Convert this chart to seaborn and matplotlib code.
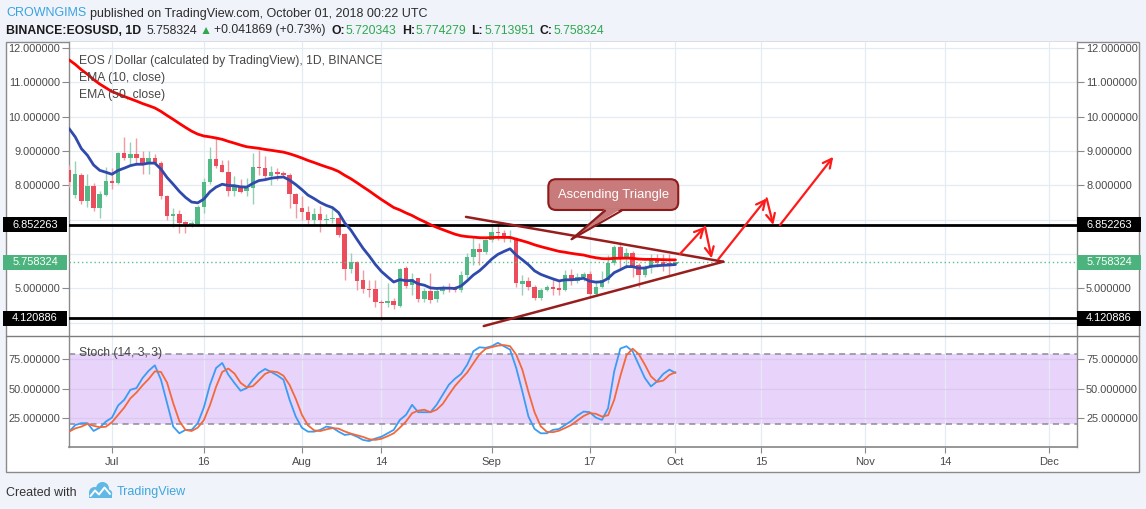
import numpy as np
import pandas as pd
import matplotlib
matplotlib.use("Agg")
import matplotlib.pyplot as plt
import matplotlib.transforms as mtransforms
from matplotlib.patches import Rectangle, Polygon, Circle
from matplotlib.lines import Line2D
import seaborn as sns

# ------------------------------------------------------------------ data
START = "2018-06-24"
opens = [8.45, 7.72, 8.30, 7.54, 7.98, 7.35, 7.72, 8.13, 8.08, 8.93,
         8.80, 8.90, 8.80, 8.61, 8.80, 8.66, 7.69, 7.10, 7.16, 6.92,
         6.87, 6.88, 7.38, 8.09, 8.77, 8.59, 8.40, 7.84, 7.96, 7.83,
         7.91, 8.54, 8.51, 8.28, 8.40, 8.35, 8.30, 7.74, 7.33, 7.21,
         6.99, 7.17, 6.99, 7.03, 7.06, 6.57, 5.56, 5.76, 5.23, 4.98,
         4.98, 4.60, 4.56, 4.63, 4.49, 5.58, 5.10, 5.29, 4.68, 4.92,
         4.68, 4.92, 5.05, 5.01, 4.96, 5.39, 5.90, 6.14, 6.07, 6.41,
         6.65, 6.62, 6.43, 6.46, 5.13, 5.22, 5.05, 4.71, 4.95, 5.03,
         5.00, 4.95, 5.39, 5.22, 5.34, 5.42, 4.83, 5.05, 5.24, 5.73,
         6.19, 5.92, 6.04, 5.68, 5.39, 5.61, 5.85, 5.78, 5.75, 5.720343]
highs = [8.59, 8.71, 8.35, 8.32, 8.07, 7.82, 8.54, 8.50, 8.96, 9.42,
         9.27, 9.37, 9.00, 9.00, 8.90, 8.70, 7.72, 7.33, 7.28, 6.95,
         6.95, 7.44, 8.22, 9.13, 9.37, 8.74, 8.73, 8.27, 8.17, 8.20,
         8.93, 9.03, 8.86, 8.55, 8.50, 8.42, 8.35, 7.77, 7.70, 7.41,
         7.35, 7.41, 7.16, 7.33, 7.10, 6.60, 6.02, 5.80, 5.53, 5.24,
         5.24, 4.65, 5.15, 4.72, 5.60, 5.65, 5.44, 5.30, 5.00, 5.44,
         4.98, 5.10, 5.14, 5.08, 5.50, 6.02, 6.50, 6.33, 6.45, 6.89,
         6.84, 6.70, 6.70, 6.50, 5.39, 5.32, 5.10, 5.00, 5.10, 5.30,
         5.20, 5.54, 5.56, 5.45, 5.48, 5.50, 5.20, 5.50, 5.97, 6.26,
         6.36, 6.16, 6.08, 5.73, 5.68, 6.00, 6.00, 6.00, 6.00, 5.774279]
lows = [7.95, 7.64, 7.45, 7.38, 7.25, 7.06, 7.70, 7.88, 8.05, 8.74,
        8.57, 8.60, 8.33, 8.32, 8.60, 7.60, 6.98, 6.80, 6.60, 6.60,
        6.80, 6.84, 7.18, 8.05, 8.50, 8.38, 7.70, 7.69, 7.77, 7.70,
        7.45, 8.30, 8.20, 8.00, 8.15, 8.24, 7.35, 7.04, 7.00, 6.88,
        6.84, 6.65, 6.85, 6.90, 6.50, 5.24, 5.44, 4.95, 4.85, 4.76,
        4.45, 4.08, 4.46, 4.41, 4.45, 5.00, 4.80, 4.61, 4.61, 4.56,
        4.61, 4.83, 4.90, 4.89, 4.89, 5.29, 5.68, 5.68, 6.00, 6.36,
        6.40, 6.36, 6.36, 5.05, 4.80, 4.96, 4.67, 4.65, 4.92, 4.80,
        4.80, 4.91, 5.10, 5.15, 5.20, 4.74, 4.79, 5.00, 5.14, 5.68,
        5.58, 5.58, 5.34, 5.05, 5.34, 5.44, 5.63, 5.49, 5.39, 5.713951]
closes = [8.09, 8.32, 7.54, 7.98, 7.33, 7.74, 8.13, 8.06, 8.93, 8.80,
          8.90, 8.80, 8.61, 8.80, 8.64, 7.69, 7.12, 7.15, 6.89, 6.87,
          6.90, 7.38, 8.09, 8.77, 8.57, 8.40, 7.83, 7.96, 7.81, 7.91,
          8.54, 8.51, 8.28, 8.40, 8.33, 8.30, 7.74, 7.45, 7.21, 6.99,
          7.16, 6.99, 7.03, 7.06, 6.55, 5.56, 5.76, 5.21, 4.98, 4.94,
          4.59, 4.56, 4.63, 4.51, 5.56, 5.08, 5.26, 4.68, 4.92, 4.66,
          4.92, 5.05, 5.00, 4.96, 5.39, 5.90, 6.14, 6.07, 6.41, 6.65,
          6.60, 6.46, 6.50, 5.14, 5.22, 5.03, 4.71, 4.95, 5.03, 4.99,
          4.95, 5.39, 5.25, 5.34, 5.42, 4.83, 5.05, 5.24, 5.73, 6.21,
          5.92, 6.04, 5.63, 5.39, 5.61, 5.85, 5.75, 5.72, 5.716455, 5.758324]
stoch_k = [13.4, 19.0, 20.6, 20.6, 14.0, 16.8, 22.0, 25.4, 35.7, 40.6,
           49.1, 50.6, 59.2, 65.4, 70.0, 57.7, 37.7, 17.7, 12.0, 14.9,
           14.9, 20.6, 34.0, 53.4, 67.7, 72.0, 62.0, 54.9, 48.3, 50.6,
           57.7, 63.5, 66.9, 64.3, 61.4, 57.7, 40.6, 26.3, 16.8, 13.4,
           13.4, 14.9, 17.7, 16.8, 13.4, 10.6, 11.3, 9.1, 6.3, 5.4,
           7.5, 9.1, 12.0, 14.9, 23.4, 27.7, 36.3, 30.0, 30.0, 30.0,
           36.3, 44.9, 53.4, 58.6, 62.6, 70.6, 82.0, 85.4, 84.9, 86.3,
           89.2, 86.3, 83.4, 67.7, 47.7, 26.3, 15.7, 12.0, 12.0, 14.9,
           15.7, 19.1, 22.6, 27.1, 30.5, 30.0, 25.4, 23.4, 33.4, 64.8,
           84.3, 86.3, 82.0, 70.6, 59.2, 52.0, 56.3, 62.6, 66.3, 63.5]

ema10_seed = 10.00
ema50_seed = 11.80
resistance = 6.852263
support = 4.120886

price_ticks = [5, 8, 9, 10, 11, 12]
price_grid = [4, 5, 6, 7, 8, 9, 10, 11, 12]
stoch_ticks = [25, 50, 75]
date_ticks = ["2018-07-01", "2018-07-16", "2018-08-01", "2018-08-14", "2018-09-01",
              "2018-09-17", "2018-10-01", "2018-10-15", "2018-11-01", "2018-11-14",
              "2018-12-01"]
date_labels = ["Jul", "16", "Aug", "14", "Sep", "17", "Oct", "15", "Nov", "14", "Dec"]

# chart drawings (x = days since START, y = price)
tri_upper = [(64.8, 7.08), (106.8, 5.775)]
tri_lower = [(67.7, 3.90), (106.8, 5.775)]
arrow_segments = [((99.74, 6.00), (103.82, 6.795)),
                  ((103.82, 6.795), (104.91, 5.874)),
                  ((105.99, 5.845), (113.89, 7.62)),
                  ((113.89, 7.62), (114.97, 6.844)),
                  ((116.07, 6.844), (124.77, 8.83))]
callout_text = "Ascending Triangle"
callout_center = (88.85, 7.73)
callout_pointer = [(87.5, 7.26), (90.2, 7.26), (82.05, 6.43)]

# ------------------------------------------------------------------ frame
sns.set_theme(style="white")
plt.rcParams['font.family'] = ['Liberation Sans', 'DejaVu Sans']

W, H = 1146, 509
fig = plt.figure(figsize=(W / 100, H / 100), dpi=100, facecolor="#f0f3fa")
PIX = mtransforms.IdentityTransform()


def fx(p):
    return p / W


def fy(p):
    return 1 - p / H


fig.add_artist(Rectangle((fx(6), fy(472)), fx(1139) - fx(6), fy(42) - fy(472),
                         transform=fig.transFigure, fc="white", ec="#8a8a8a", lw=1, zorder=-5))

L, R = 69.4, 1077
ax = fig.add_axes([fx(L), fy(335.5), fx(R) - fx(L), fy(42) - fy(335.5)])
ax2 = fig.add_axes([fx(L), fy(447), fx(R) - fx(L), fy(336.5) - fy(447)])
for a in (ax, ax2):
    a.set_facecolor("white")
    a.set_xlim(0.05, 164.56)
ax.set_ylim(3.625, 12.175)
ax2.set_ylim(0.3, 94.6)

# ------------------------------------------------------------------ data frame
dates = pd.date_range(START, periods=len(closes), freq="D")
t0 = dates[0]
df = pd.DataFrame({"x": (dates - t0).days, "open": opens, "high": highs,
                   "low": lows, "close": closes, "k": stoch_k})
df["ema10"] = pd.Series([ema10_seed] + closes).ewm(span=10, adjust=False).mean().iloc[1:].values
df["ema50"] = pd.Series([ema50_seed] + closes).ewm(span=50, adjust=False).mean().iloc[1:].values
df["d"] = df["k"].rolling(3, min_periods=1).mean()
date_x = [(pd.Timestamp(d) - t0).days for d in date_ticks]

# ------------------------------------------------------------------ grids
grid_c = "#e4ebf2"
for g in price_grid:
    ax.axhline(g, color=grid_c, lw=0.9, zorder=0.5)
for xv in date_x:
    ax.axvline(xv, color=grid_c, lw=0.9, zorder=0.5)
    ax2.axvline(xv, color=grid_c, lw=0.9, zorder=0.6)

# ------------------------------------------------------------------ candles
up = df["close"] >= df["open"]
body_col = np.where(up, "#53b987", "#eb4d5c")
wick_col = np.where(up, "#94d1b5", "#f09aa3")
ax.vlines(df["x"], df["low"], df["high"], colors=wick_col, lw=1.0, zorder=3)
ax.bar(df["x"], np.maximum((df["close"] - df["open"]).abs(), 0.03),
       bottom=np.minimum(df["open"], df["close"]), width=0.74,
       color=body_col, lw=0, zorder=4)

# level lines
ax.axhline(resistance, color="black", lw=2, zorder=4.5)
ax.axhline(support, color="black", lw=2, zorder=4.5)
ax.axhline(closes[-1], color="#5cc08f", lw=1, ls=(0, (1, 2)), zorder=4.6)

# EMAs
sns.lineplot(data=df, x="x", y="ema10", ax=ax, color="#3049ad", lw=2, zorder=5)
sns.lineplot(data=df, x="x", y="ema50", ax=ax, color="#ff0000", lw=2, zorder=5)

# triangle + arrows
tri_c = "#981d1d"
for seg in (tri_upper, tri_lower):
    ax.plot([seg[0][0], seg[1][0]], [seg[0][1], seg[1][1]], color=tri_c, lw=1.8, zorder=6,
            solid_capstyle="round")
for (p0, p1) in arrow_segments:
    ax.annotate("", xy=p1, xytext=p0,
                arrowprops=dict(arrowstyle="->", color="#ff1a1a", lw=1.6,
                                mutation_scale=16, shrinkA=0, shrinkB=0), zorder=7)

# callout
box_fc, box_ec = "#c97a7a", "#8e1b1b"
ax.text(callout_center[0], callout_center[1], callout_text, ha="center", va="center",
        color="white", fontsize=9.4, zorder=8,
        bbox=dict(boxstyle="round,pad=0.72,rounding_size=0.6", fc=box_fc, ec=box_ec, lw=1.5))
pp = callout_pointer
ax.add_patch(Polygon([(pp[0][0], pp[0][1] + 0.06), (pp[1][0], pp[1][1] + 0.06), pp[2]],
                     closed=True, fc=box_fc, ec="none", zorder=9))
for base in (pp[0], pp[1]):
    ax.plot([base[0], pp[2][0]], [base[1], pp[2][1]], color=box_ec, lw=1.5, zorder=9.5)

# ------------------------------------------------------------------ stochastic
ax2.axhspan(20, 80, color="#e8d3fb", lw=0, zorder=0.2)
for g in stoch_ticks:
    ax2.axhline(g, color="#dcc8f0", lw=0.9, zorder=0.7)
for lvl in (20, 80):
    ax2.axhline(lvl, color="#8f8a96", lw=1.1, ls=(0, (4, 3)), zorder=1)
sns.lineplot(data=df, x="x", y="k", ax=ax2, color="#3a9cf2", lw=1.3, zorder=3)
sns.lineplot(data=df, x="x", y="d", ax=ax2, color="#f2693b", lw=1.3, zorder=3)

# ------------------------------------------------------------------ axes styling
spine_c = "#8a8a8a"
for a in (ax, ax2):
    a.set_xlabel("")
    a.set_ylabel("")
    for s in ("left", "right"):
        a.spines[s].set_visible(True)
        a.spines[s].set_color(spine_c)
        a.spines[s].set_linewidth(1)
    a.spines["top"].set_visible(False)
ax.spines["bottom"].set_visible(False)
ax2.spines["bottom"].set_visible(True)
ax2.spines["bottom"].set_color(spine_c)

ax.set_xticks(date_x)
ax.tick_params(axis="x", length=0, labelbottom=False)
ax2.set_xticks(date_x)
ax2.set_xticklabels(date_labels)
ax2.tick_params(axis="x", bottom=True, length=4, width=0.8, color=spine_c,
                labelsize=8, labelcolor="#4a4a4a", pad=3)

ax.set_yticks(price_ticks)
ax.set_yticklabels([f"{v:.6f}" for v in price_ticks])
ax2.set_yticks(stoch_ticks)
ax2.set_yticklabels([f"{v:.6f}" for v in stoch_ticks])
for a in (ax, ax2):
    a.tick_params(axis="y", left=True, right=True, labelleft=True, labelright=True,
                  direction="out", length=5, width=0.8, color=spine_c,
                  labelsize=7.9, labelcolor="#4a4a4a", pad=1.5)

# panel separator
fig.add_artist(Line2D([fx(6), fx(1139)], [fy(336), fy(336)], transform=fig.transFigure,
                      color="#7d7d7d", lw=1, zorder=11))


# boxed price labels on both axes
def price_box(axis, yval, fc):
    trans = mtransforms.blended_transform_factory(fig.transFigure, axis.transData)
    y0, y1 = axis.get_ylim()
    hpx = axis.get_position().height * H
    h = 15 * (y1 - y0) / hpx
    for xl, xr in [(3, 67), (1077, 1141)]:
        fig.add_artist(Rectangle((fx(xl), yval - h / 2), fx(xr) - fx(xl), h, transform=trans,
                                 fc=fc, ec=fc, lw=0, zorder=10))
        fig.text(fx((xl + xr) / 2), yval, f"{yval:.6f}", transform=trans, ha="center",
                 va="center", color="white", fontsize=7.9, zorder=12)


price_box(ax, resistance, "#000000")
price_box(ax, closes[-1], "#4db37e")
price_box(ax, support, "#000000")

# in-chart legends
leg_c = "#474747"
fig.text(79, H - 61, "EOS / Dollar (calculated by TradingView), 1D, BINANCE", transform=PIX,
         fontsize=8.7, color=leg_c, va="center", zorder=12)
fig.text(79, H - 78, "EMA (10, close)", transform=PIX, fontsize=8.7, color=leg_c, va="center", zorder=12)
fig.text(79, H - 95, "EMA (50, close)", transform=PIX, fontsize=8.7, color=leg_c, va="center", zorder=12)
fig.text(79, H - 353, "Stoch (14, 3, 3)", transform=PIX, fontsize=8.7, color=leg_c, va="center", zorder=12)

# ------------------------------------------------------------------ header
renderer = fig.canvas.get_renderer()


def seq_text(x_px, y_base_px, parts, size):
    x = x_px
    for s, color, weight, gap in parts:
        t = fig.text(x, H - y_base_px, s, transform=PIX, fontsize=size, color=color,
                     fontweight=weight, va="baseline", ha="left")
        bb = t.get_window_extent(renderer=renderer)
        x = bb.x1 + gap


dark = "#2b2b2b"
grn = "#2fa84f"
chg = closes[-1] - closes[-2]
pct = chg / closes[-2] * 100
seq_text(6, 16.5, [("CROWNGIMS", "#3aa3de", "normal", 3.5),
                   ("published on TradingView.com, October 01, 2018 00:22 UTC", dark, "normal", 0)], 9.0)
seq_text(6, 33.5, [("BINANCE:EOSUSD, 1D", "#1a1a1a", "bold", 5),
                   (f"{closes[-1]:.6f}", dark, "normal", 3),
                   ("\u25B2", grn, "normal", 2),
                   (f"+{chg:.6f} (+{pct:.2f}%)", dark, "normal", 6),
                   ("O:", "#1a1a1a", "bold", 1), (f"{opens[-1]:.6f}", grn, "normal", 5),
                   ("H:", "#1a1a1a", "bold", 1), (f"{highs[-1]:.6f}", grn, "normal", 5),
                   ("L:", "#1a1a1a", "bold", 1), (f"{lows[-1]:.6f}", grn, "normal", 5),
                   ("C:", "#1a1a1a", "bold", 1), (f"{closes[-1]:.6f}", grn, "normal", 0)], 8.8)

# ------------------------------------------------------------------ footer
fig.text(6, H - 495.5, "Created with", transform=PIX, fontsize=9, color="#333333", va="baseline")
logo_c = "#5fb8e6"
for cx, cy, r in [(94.5, 492.5, 5.5), (102.5, 488.5, 6.5), (108, 493.5, 4.2)]:
    fig.add_artist(Circle((cx, H - cy), r, transform=PIX, fc=logo_c, ec="none", zorder=5))
fig.add_artist(Rectangle((89, H - 498), 23, 6, transform=PIX, fc=logo_c, ec="none", zorder=5))
fig.add_artist(Line2D([90.5, 95, 99, 104.5, 110], [H - 496, H - 490.5, H - 494.5, H - 487.5, H - 494],
                      transform=PIX, color="white", lw=1.4, zorder=6))
fig.text(117, H - 495.5, "TradingView", transform=PIX, fontsize=9, color="#3ea6dd", va="baseline")

fig.savefig("out.png", dpi=100, facecolor=fig.get_facecolor())
